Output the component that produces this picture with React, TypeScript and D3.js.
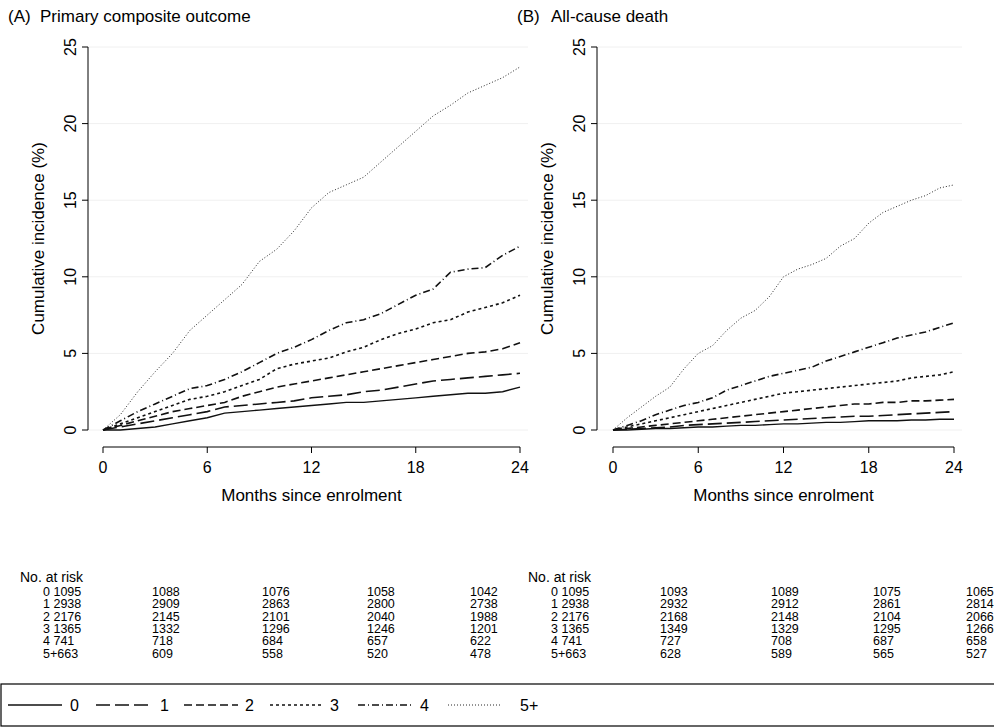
import React from "react";
import * as d3 from "d3";

const months = d3.range(0, 25);
const groups = ["0", "1", "2", "3", "4", "5+"];
const dashes = ["", "14,5", "8,4", "3,3", "7,3,1,3", "1,2"];
const widths = [1.4, 1.6, 1.6, 1.6, 1.6, 0.9];

const aSeries = [
  [0,0,0.1,0.2,0.4,0.6,0.8,1.1,1.2,1.3,1.4,1.5,1.6,1.7,1.8,1.8,1.9,2,2.1,2.2,2.3,2.4,2.4,2.5,2.8],
  [0,0.2,0.4,0.6,0.8,1,1.2,1.5,1.6,1.7,1.8,1.9,2.1,2.2,2.3,2.5,2.6,2.8,3,3.2,3.3,3.4,3.5,3.6,3.7],
  [0,0.3,0.6,0.9,1.2,1.4,1.6,1.8,2.2,2.5,2.8,3,3.2,3.4,3.6,3.8,4,4.2,4.4,4.6,4.8,5,5.1,5.3,5.7],
  [0,0.4,0.8,1.2,1.6,2,2.2,2.5,2.9,3.3,4,4.3,4.5,4.7,5.1,5.4,5.9,6.3,6.6,7,7.2,7.7,8,8.3,8.8],
  [0,0.6,1.2,1.7,2.2,2.7,2.9,3.3,3.8,4.4,5,5.4,5.9,6.5,7,7.2,7.6,8.2,8.8,9.2,10.3,10.5,10.6,11.4,12],
  [0,1,2.5,3.8,5,6.5,7.5,8.5,9.5,11,11.8,13,14.5,15.5,16,16.5,17.5,18.5,19.5,20.5,21.2,22,22.5,23,23.7],
];
const bSeries = [
  [0,0,0.05,0.1,0.1,0.15,0.2,0.2,0.25,0.3,0.3,0.35,0.4,0.4,0.45,0.5,0.5,0.55,0.6,0.6,0.6,0.65,0.65,0.7,0.7],
  [0,0.05,0.1,0.15,0.2,0.3,0.35,0.4,0.45,0.5,0.55,0.6,0.65,0.7,0.75,0.8,0.85,0.9,0.9,0.95,1,1.05,1.1,1.15,1.2],
  [0,0.1,0.2,0.3,0.4,0.5,0.6,0.7,0.8,0.9,1,1.1,1.2,1.3,1.4,1.5,1.6,1.7,1.7,1.8,1.8,1.9,1.9,1.95,2],
  [0,0.2,0.4,0.6,0.8,1,1.2,1.4,1.6,1.8,2,2.2,2.4,2.5,2.6,2.7,2.8,2.9,3,3.1,3.2,3.4,3.5,3.6,3.8],
  [0,0.3,0.6,1,1.3,1.6,1.8,2.1,2.6,2.9,3.2,3.5,3.7,3.9,4.1,4.5,4.8,5.1,5.4,5.7,6,6.2,6.4,6.7,7],
  [0,0.8,1.5,2.2,2.8,4,5,5.5,6.5,7.3,7.8,8.7,10,10.5,10.8,11.2,12,12.5,13.5,14.2,14.6,15,15.3,15.8,16],
];
const aRisk = [
  [1095,1088,1076,1058,1042],[2938,2909,2863,2800,2738],[2176,2145,2101,2040,1988],
  [1365,1332,1296,1246,1201],[741,718,684,657,622],[663,609,558,520,478],
];
const bRisk = [
  [1095,1093,1089,1075,1065],[2938,2932,2912,2861,2814],[2176,2168,2148,2104,2066],
  [1365,1349,1329,1295,1266],[741,727,708,687,658],[663,628,589,565,527],
];
const xTicks = [0, 6, 12, 18, 24];
const yTicks = [0, 5, 10, 15, 20, 25];

const font = "Liberation Sans, Arial, sans-serif";

function Panel({ letter, title, series, risk, x0, x1, axisX, titleX, riskX, riskCols }: any) {
  const x = d3.scaleLinear().domain([0, 24]).range([x0, x1]);
  const y = d3.scaleLinear().domain([0, 25]).range([430, 47]);
  const line = d3.line<number>().x((_, i) => x(months[i])).y((d) => y(d));
  const mid = (x0 + x1) / 2;
  return (
    <g fontFamily={font}>
      <text x={axisX - 80} y={22} fontSize={17}>{letter}</text>
      <text x={titleX} y={22} fontSize={17}>{title}</text>
      {yTicks.map((t) => (
        <g key={t}>
          <line x1={axisX} x2={x1 + 8} y1={y(t)} y2={y(t)} stroke="#f0f0f0" strokeWidth={1} />
          <line x1={axisX - 6} x2={axisX} y1={y(t)} y2={y(t)} stroke="#000" />
          <text transform={`translate(${axisX - 12},${y(t)}) rotate(-90)`} textAnchor="middle" fontSize={16}>{t}</text>
        </g>
      ))}
      <line x1={axisX} x2={axisX} y1={y(25)} y2={y(0)} stroke="#000" />
      <text transform={`translate(${axisX - 44},${y(12.5)}) rotate(-90)`} textAnchor="middle" fontSize={17}>Cumulative incidence (%)</text>
      <line x1={x0} x2={x1} y1={447} y2={447} stroke="#000" />
      {xTicks.map((t) => (
        <g key={t}>
          <line x1={x(t)} x2={x(t)} y1={447} y2={453} stroke="#000" />
          <text x={x(t)} y={473} textAnchor="middle" fontSize={16}>{t}</text>
        </g>
      ))}
      <text x={mid} y={501} textAnchor="middle" fontSize={17}>Months since enrolment</text>
      {series.map((s: number[], i: number) => (
        <path key={i} d={line(s) || ""} fill="none" stroke="#111" strokeWidth={widths[i]} strokeDasharray={dashes[i]} />
      ))}
      <text x={riskX - 23} y={582} fontSize={14}>No. at risk</text>
      {risk.map((r: number[], i: number) => (
        <g key={i} fontSize={12.5}>
          {r.map((v, j) => (
            <text key={j} x={j === 0 ? riskX : riskCols[j]} y={596 + i * 12.3}>
              {j === 0 ? (groups[i] === "5+" ? "5+" + v : groups[i] + " " + v) : v}
            </text>
          ))}
        </g>
      ))}
    </g>
  );
}

export default function App() {
  const lx = [8, 96, 184, 270, 358, 448];
  const tx = [70, 160, 245, 330, 420, 520];
  return (
    <svg width={994} height={727} style={{ position: "absolute", left: 0, top: 0, background: "#fff" }}>
      <rect width={994} height={727} fill="#fff" />
      <Panel letter="(A)" title="Primary composite outcome" series={aSeries} risk={aRisk}
        x0={103} x1={520} axisX={88} titleX={40} riskX={43} riskCols={[0, 152, 262, 367, 470]} />
      <Panel letter="(B)" title="All-cause death" series={bSeries} risk={bRisk}
        x0={613} x1={954} axisX={597} titleX={551} riskX={551} riskCols={[0, 660, 771, 873, 966]} />
      <rect x={1} y={684} width={1000} height={42} fill="none" stroke="#000" strokeWidth={1.2} />
      {groups.map((g, i) => (
        <g key={g}>
          <line x1={lx[i]} x2={lx[i] + 54} y1={705} y2={705} stroke="#111" strokeWidth={widths[i]} strokeDasharray={dashes[i]} />
          <text x={tx[i]} y={711} fontSize={16} fontFamily={font}>{g}</text>
        </g>
      ))}
    </svg>
  );
}
